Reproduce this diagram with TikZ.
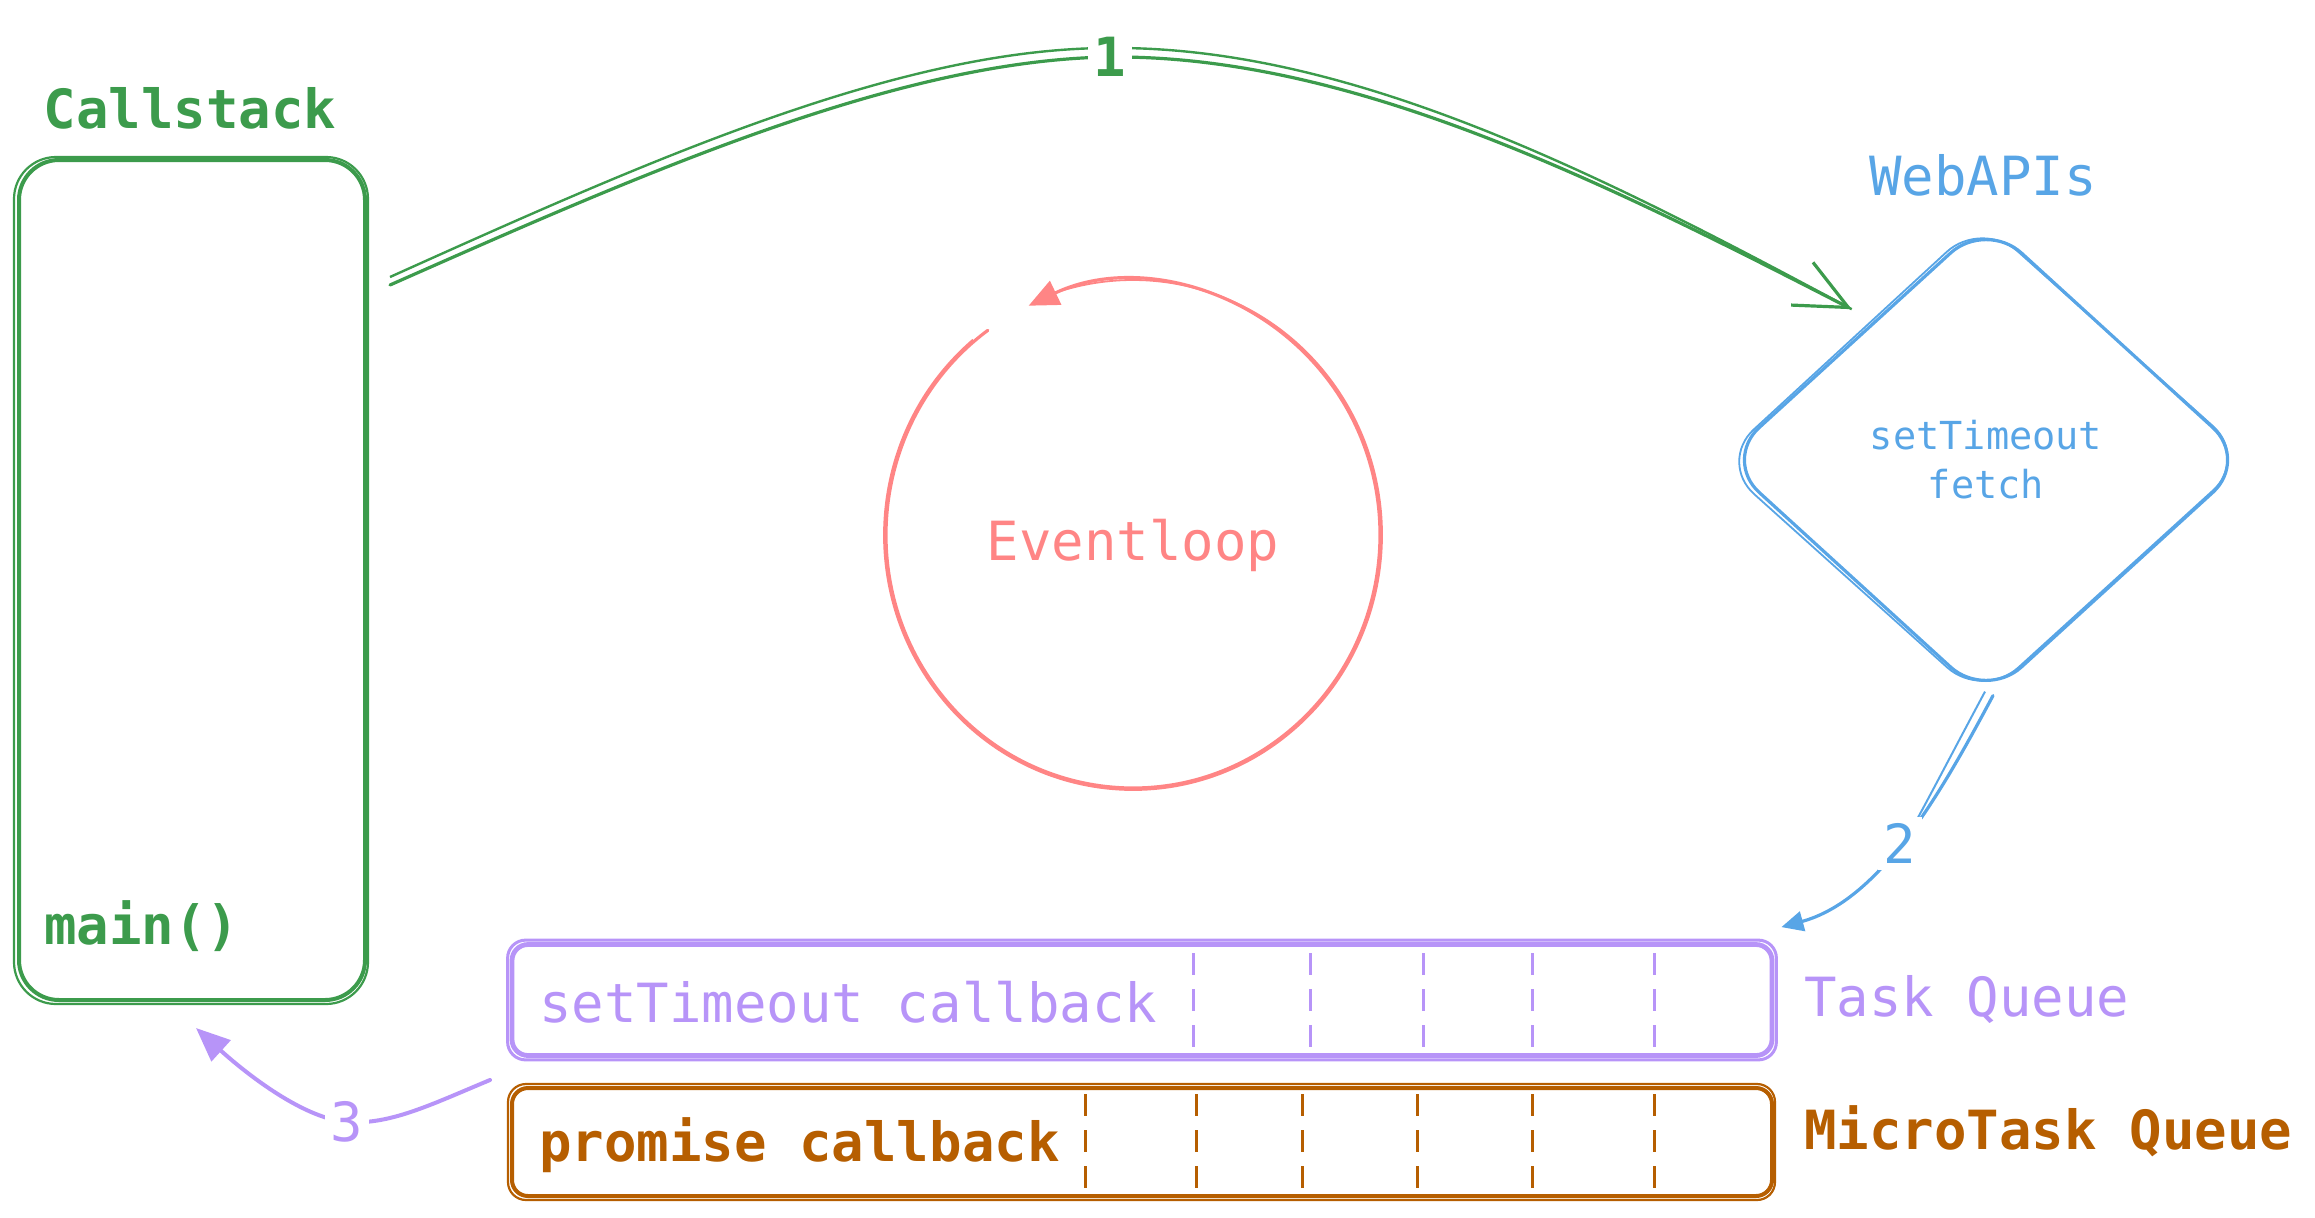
\documentclass[tikz,border=0pt]{standalone}
\usepackage{fontspec}
\setmainfont{DejaVu Sans Mono}
\setmonofont{DejaVu Sans Mono}
\usetikzlibrary{shapes.geometric,arrows.meta,calc}

\definecolor{csgreen}{HTML}{3C9B4C}
\definecolor{apiblue}{HTML}{58A5E6}
\definecolor{loopred}{HTML}{FF8585}
\definecolor{qpurple}{HTML}{B794F8}
\definecolor{qbrown}{HTML}{B65E00}

\begin{document}
\begin{tikzpicture}[x=0.5pt,y=-0.5pt,
  lbl/.style={font=\fontsize{27}{32}\selectfont, inner sep=0pt},
  boldlbl/.style={lbl, font=\fontsize{27}{32}\selectfont\bfseries},
  small/.style={font=\fontsize{19.3}{24.5}\selectfont},
  tag/.style={lbl, fill=white, inner sep=3pt},
  stackbox/.style={draw=csgreen, line width=2pt, rounded corners=20pt,
    minimum width=173pt, minimum height=420pt, inner sep=0pt},
  apibox/.style={diamond, draw=apiblue, line width=1.6pt, rounded corners=24pt,
    minimum width=263pt, minimum height=240pt, inner sep=0pt, align=center,
    small, text=apiblue},
  queuebox/.style={draw=#1, line width=2.4pt, rounded corners=8pt,
    minimum width=630pt, inner sep=0pt},
  slot/.style={draw=#1, line width=1.5pt, dash pattern=on 11pt off 7pt},
  flow/.style={line width=1.6pt, line cap=round},
]
\useasboundingbox (0,0) rectangle (2315,1217);

% ---- call stack ----
\node[stackbox] (cs) at (192,580) {};
\draw[csgreen, line width=1.1pt, rounded corners=21pt]
  ($(cs.south west)+(-3,2)$) rectangle ($(cs.north east)+(1,-1)$);
\node[boldlbl, text=csgreen, anchor=base] (cstitle) at (190,128) {Callstack};
\node[boldlbl, text=csgreen, anchor=base west] (mainfn) at (44,944) {main()};

% ---- web APIs ----
\node[apibox] (api) at (1986,460) {setTimeout\\fetch};
\draw[apiblue, line width=0.9pt, rounded corners=24pt]
  ($(api.north)+(-4,1)$) -- ($(api.east)+(-2,-2)$) -- ($(api.south)+(-3,-2)$)
  -- ($(api.west)+(-3,2)$) -- cycle;
\node[lbl, text=apiblue, anchor=base] (apititle) at (1983,195) {WebAPIs};

% ---- event loop ----
\node[lbl, text=loopred, anchor=base] (ev) at (1133,560) {Eventloop};
\coordinate (loopc) at ($(ev.base)+(0,-25)$);
\draw[loopred, line width=0.9pt]
  (loopc) ++(230:249 and 255) arc[start angle=230, end angle=-110, x radius=249, y radius=255];
\draw[loopred, flow, -{Triangle[length=15pt,width=13pt]}]
  (loopc) ++(234:247 and 253) arc[start angle=234, end angle=-115, x radius=247, y radius=253];

% ---- task queue ----
\node[queuebox=qpurple, minimum height=55.5pt] (tq) at (1142,1000) {};
\draw[qpurple, line width=1.5pt, rounded corners=9pt]
  ($(tq.south west)+(-2,2)$) rectangle ($(tq.north east)+(2,-2)$);
\node[lbl, text=qpurple, anchor=base west] (tqtext) at (539,1022) {setTimeout callback};
\foreach \x in {1193,1310,1423,1532,1654}
  \draw[slot=qpurple] (\x,953) -- (\x,1050);
\node[lbl, text=qpurple, anchor=base west] (tqname) at (1804,1016) {Task Queue};

% ---- microtask queue ----
\node[queuebox=qbrown, line width=2pt, minimum height=54pt] (mq) at (1142,1142) {};
\draw[qbrown, line width=1.1pt, rounded corners=9pt]
  ($(mq.south west)+(-2,2)$) rectangle ($(mq.north east)+(1,-2)$);
\node[boldlbl, text=qbrown, anchor=base west] (mqtext) at (539,1161) {promise callback};
\foreach \x in {1085,1196,1302,1417,1532,1654}
  \draw[slot=qbrown] (\x,1094) -- (\x,1188);
\node[boldlbl, text=qbrown, anchor=base west] (mqname) at (1804,1149) {MicroTask Queue};

% ---- arrow 1: call stack -> web APIs ----
\coordinate (a1s) at ($(cs.east)+(23,-295)$);
\coordinate (a1e) at ($(api.north west)+(-2,-30)$);
\draw[csgreen, line width=1.2pt]
  ($(a1s)+(0,-8)$) .. controls (650,160) and (900,48) .. (1110,48)
  .. controls (1350,46) and (1600,174) .. (a1e);
\draw[csgreen, flow, -{Straight Barb[length=26pt,width=24pt]}]
  (a1s) .. controls (650,170) and (900,60) .. (1110,57)
  node[tag, font=\fontsize{27}{32}\selectfont\bfseries] {1}
  .. controls (1350,55) and (1600,180) .. (a1e);

% ---- arrow 2: web APIs -> task queue ----
\coordinate (a2s) at ($(api.south)+(7,-6)$);
\coordinate (a2e) at ($(tq.north east)+(7,-15)$);
\draw[apiblue, line width=1pt] ($(a2s)+(-8,-4)$) .. controls (1935,785) and (1905,845) .. (1895,855);
\draw[apiblue, flow, -{Triangle[length=11pt,width=10pt]}]
  (a2s) .. controls (1940,795) and (1880,900) .. (a2e)
  node[tag, pos=0.52, text=apiblue] {2};

% ---- arrow 3: microtask queue -> call stack ----
\coordinate (a3s) at ($(mq.north west)+(-20,-6)$);
\coordinate (a3e) at ($(cs.south)+(4,26)$);
\draw[qpurple, flow, line width=2pt, -{Triangle[length=17pt,width=14pt]}]
  (a3s) .. controls (430,1105) and (390,1125) .. (347,1122)
  node[tag, text=qpurple] {3}
  .. controls (300,1118) and (240,1068) .. (a3e);

\end{tikzpicture}
\end{document}
